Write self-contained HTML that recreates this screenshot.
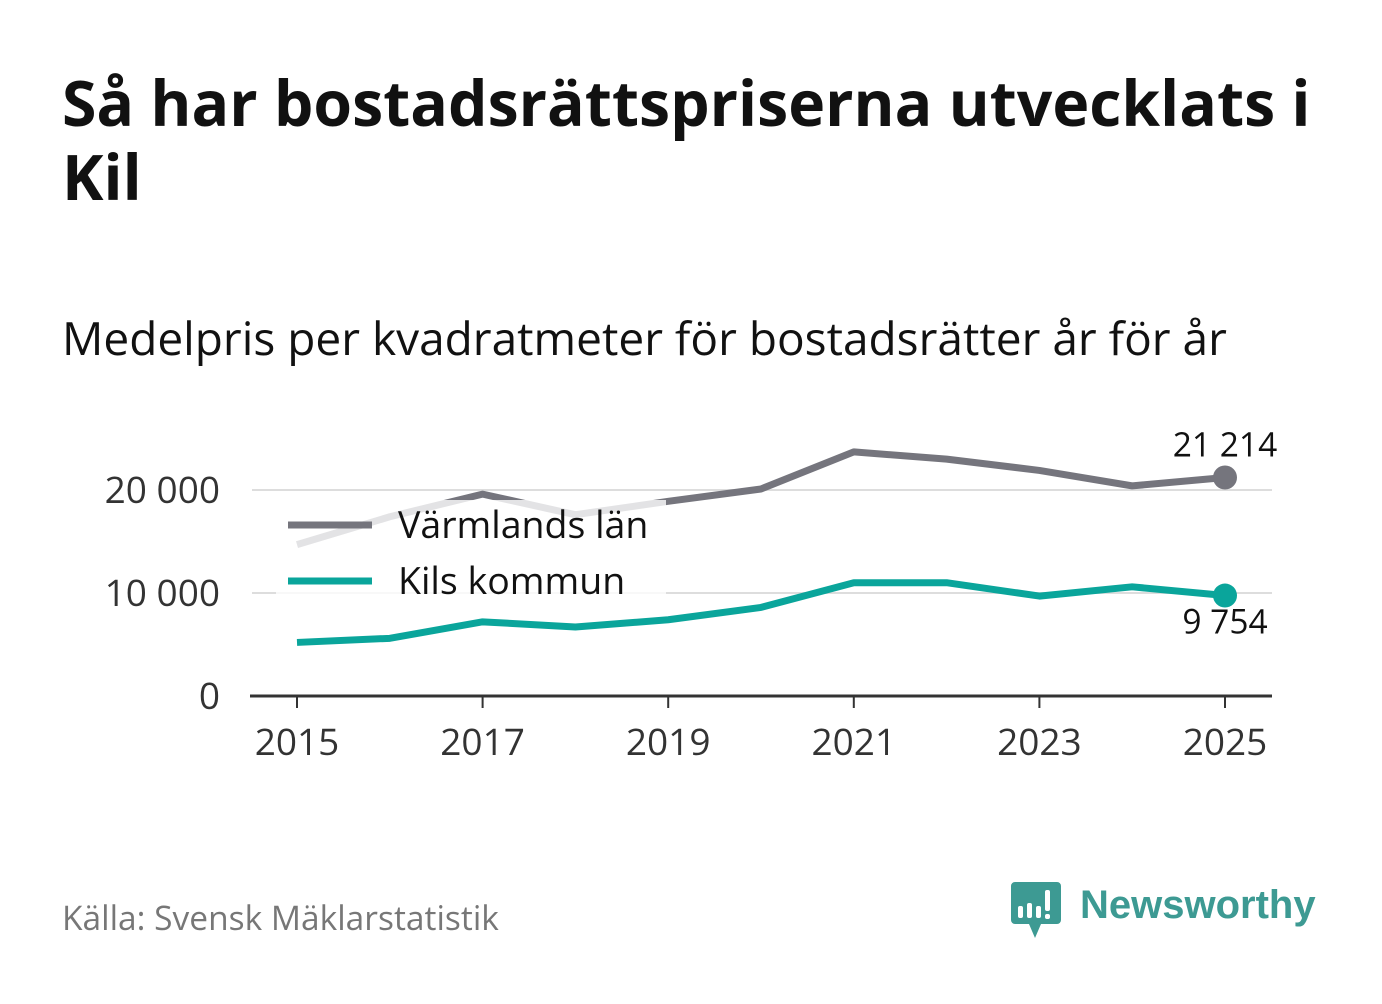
<!DOCTYPE html>
<html><head><meta charset="utf-8"><style>
body{margin:0;width:1382px;height:999px;background:#fff;font-family:"Open Sans","DejaVu Sans","Liberation Sans",sans-serif;overflow:hidden}
</style></head><body>
<svg width="1382" height="999" id="svg">
<text x="62" y="126" font-size="62.5" font-weight="bold" fill="#111">Så har bostadsrättspriserna utvecklats i</text>
<text x="62" y="200" font-size="62.5" font-weight="bold" fill="#111">Kil</text>
<text x="62" y="355" font-size="46" fill="#111">Medelpris per kvadratmeter för bostadsrätter år för år</text>
<g id="plot"></g>
<text x="62" y="930" font-size="33.5" fill="#777">Källa: Svensk Mäklarstatistik</text>
<g>
<path d="M1015 882 h42 a4 4 0 0 1 4 4 v34 a4 4 0 0 1 -4 4 h-16 l-6 14 l-6 -14 h-14 a4 4 0 0 1 -4 -4 v-34 a4 4 0 0 1 4 -4z" fill="#3d9a93"/>
<rect x="1018" y="906" width="5" height="12" rx="2" fill="#fff"/>
<rect x="1027" y="903" width="5" height="15" rx="2" fill="#fff"/>
<rect x="1036" y="906" width="5" height="12" rx="2" fill="#fff"/>
<rect x="1045" y="890" width="5" height="21" rx="2" fill="#fff"/>
<rect x="1045" y="914" width="5" height="5" rx="2" fill="#fff"/>
<text x="1080" y="918" font-size="40" font-weight="bold" fill="#3d9a93" font-family="Liberation Sans, sans-serif">Newsworthy</text>
</g>
</svg>
<script>
const years=[2015,2016,2017,2018,2019,2020,2021,2022,2023,2024,2025];
const varmland=[14700,17400,19600,17600,18900,20100,23700,23000,21900,20400,21214];
const kil=[5200,5600,7200,6700,7400,8600,11000,11000,9700,10600,9754];
const yTicks=[0,10000,20000];
const xTicks=[2015,2017,2019,2021,2023,2025];
const NS='http://www.w3.org/2000/svg';
const X=y=>297+(y-2015)*92.8;
const Y=v=>696-v*0.0103;
const g=document.getElementById('plot');
function el(t,a,txt){const e=document.createElementNS(NS,t);for(const k in a)e.setAttribute(k,a[k]);if(txt!=null)e.textContent=txt;g.appendChild(e);return e;}
const fmt=v=>String(v).replace(/\B(?=(\d{3})+(?!\d))/g,' ');
yTicks.forEach(v=>{
 if(v>0){const l=el('line',{x1:252,x2:1272,y1:Y(v),y2:Y(v),stroke:'#ddd','stroke-width':2});
 
 }
 const t=el('text',{x:220,y:Y(v)+13,'font-size':37,fill:'#333','text-anchor':'end'},fmt(v));
 
 
});
const ax=el('line',{x1:250,x2:1272,y1:696,y2:696,stroke:'#333','stroke-width':3});


xTicks.forEach(y=>{
 const tk=el('line',{x1:X(y),x2:X(y),y1:696,y2:708,stroke:'#333','stroke-width':2});
 
 
 const t=el('text',{x:X(y),y:755,'font-size':37,fill:'#333','text-anchor':'middle'},y);
 
 
});
function line(vals,color,name){
 const p=el('polyline',{points:vals.map((v,i)=>X(years[i])+','+Y(v)).join(' '),fill:'none',stroke:color,'stroke-width':7,'stroke-linejoin':'round'});
 
 
 const last=vals.length-1;
 const c=el('circle',{cx:X(years[last]),cy:Y(vals[last]),r:12,fill:color});
 
 
}
line(varmland,'#75757d','varmland');
line(kil,'#0aa59b','kil');
const lb=el('rect',{x:276,y:500,width:390,height:106,fill:'#fff',opacity:0.8});


[[ '#75757d','Värmlands län',525],['#0aa59b','Kils kommun',581]].forEach(([c,n,y])=>{
 const l=el('line',{x1:288,x2:372,y1:y,y2:y,stroke:c,'stroke-width':7});
 
 
 const t=el('text',{x:398,y:y+13,'font-size':37.5,fill:'#111'},n);
 
 
});
const l1=el('text',{x:1225,y:Y(varmland[10])-21,'font-size':33.5,fill:'#111','text-anchor':'middle'},fmt(varmland[10]));


const l2=el('text',{x:1225,y:Y(kil[10])+38,'font-size':33.5,fill:'#111','text-anchor':'middle'},fmt(kil[10]));


</script>
</body></html>
